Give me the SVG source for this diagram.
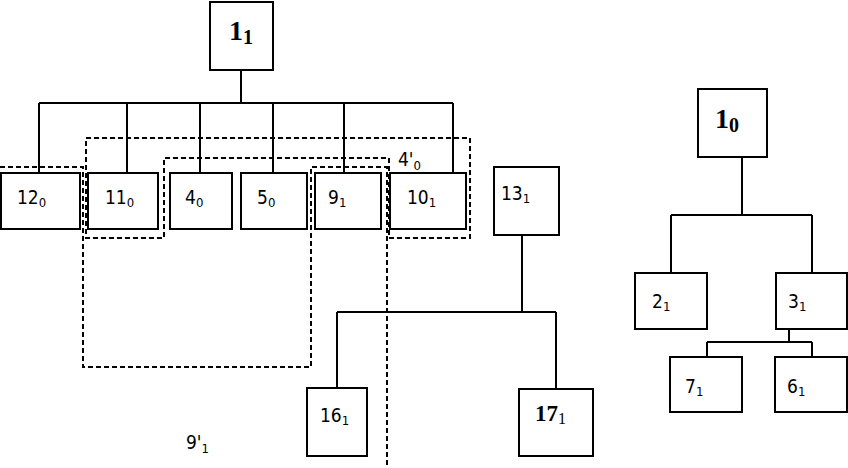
<svg xmlns="http://www.w3.org/2000/svg" width="848" height="468" viewBox="0 0 848 468">
<style>
.box{fill:#fff;stroke:#000;stroke-width:2}
.ln{fill:none;stroke:#000;stroke-width:2}
.ds{fill:none;stroke:#000;stroke-width:2;stroke-dasharray:5 3}
.t{font-family:"DejaVu Sans Condensed","DejaVu Sans",Verdana,sans-serif;font-stretch:condensed;font-size:19px;fill:#000}
.s{font-size:13px}
.b{font-family:"Liberation Serif","Times New Roman",serif;font-weight:bold;font-size:28px;fill:#000}
.bs{font-size:20px}
</style>
<rect width="848" height="468" fill="#fff"/>
<g id="connectors">
<path class="ln" d="M241,70 V103 M39,103 H453 M39,103 V173 M127,103 V173 M200,103 V173 M273,103 V173 M344,103 V173 M453,103 V173"/>
<path class="ln" d="M522,235 V312 M337,312 H556 M337,312 V388 M556,312 V389"/>
<path class="ln" d="M742,157 V215 M671,215 H812 M671,215 V273 M812,215 V273"/>
<path class="ln" d="M789,329 V342 M707,342 H812 M707,342 V357 M812,342 V357"/>
</g>
<g id="groups">
<path class="ds" d="M0,167 H83 V367 H311 V167 H387 V468"/>
<path class="ds" d="M86,138 H470 V238 H389 V158 H164 V238 H86 Z"/>
<text class="t" x="398" y="166">4'<tspan class="s" dy="4">0</tspan></text>
<text class="t" x="186" y="449">9'<tspan class="s" dy="4">1</tspan></text>
</g>
<g id="n1_1"><rect class="box" x="210" y="2" width="63" height="68"/><text class="b" x="229" y="40">1<tspan class="bs" dy="4">1</tspan></text></g>
<g id="n12_0"><rect class="box" x="1" y="173" width="79" height="56"/><text class="t" x="17" y="204">12<tspan class="s" dy="3">0</tspan></text></g>
<g id="n11_0"><rect class="box" x="88" y="173" width="70" height="56"/><text class="t" x="105" y="204">11<tspan class="s" dy="3">0</tspan></text></g>
<g id="n4_0"><rect class="box" x="170" y="173" width="62" height="56"/><text class="t" x="185" y="204">4<tspan class="s" dy="3">0</tspan></text></g>
<g id="n5_0"><rect class="box" x="241" y="173" width="66" height="56"/><text class="t" x="257" y="204">5<tspan class="s" dy="3">0</tspan></text></g>
<g id="n9_1"><rect class="box" x="315" y="173" width="66" height="56"/><text class="t" x="328" y="204">9<tspan class="s" dy="3">1</tspan></text></g>
<g id="n10_1"><rect class="box" x="390" y="173" width="76" height="56"/><text class="t" x="407" y="204">10<tspan class="s" dy="3">1</tspan></text></g>
<g id="n13_1"><rect class="box" x="494" y="167" width="65" height="68"/><text class="t" x="501" y="200">13<tspan class="s" dy="3">1</tspan></text></g>
<g id="n16_1"><rect class="box" x="307" y="388" width="60" height="68"/><text class="t" x="320" y="422">16<tspan class="s" dy="3">1</tspan></text></g>
<g id="n17_1"><rect class="box" x="519" y="389" width="74" height="67"/><text x="535" y="421" style="font-family:'Liberation Serif','Times New Roman',serif;font-weight:bold;font-size:23px">17<tspan style="font-weight:normal;font-size:16px" dy="3">1</tspan></text></g>
<g id="n1_0"><rect class="box" x="698" y="89" width="69" height="68"/><text class="b" x="715" y="128">1<tspan class="bs" dy="4">0</tspan></text></g>
<g id="n2_1"><rect class="box" x="635" y="273" width="72" height="56"/><text class="t" x="652" y="308">2<tspan class="s" dy="3">1</tspan></text></g>
<g id="n3_1"><rect class="box" x="776" y="273" width="71" height="56"/><text class="t" x="788" y="308">3<tspan class="s" dy="3">1</tspan></text></g>
<g id="n7_1"><rect class="box" x="670" y="357" width="72" height="55"/><text class="t" x="685" y="393">7<tspan class="s" dy="3">1</tspan></text></g>
<g id="n6_1"><rect class="box" x="775" y="357" width="72" height="55"/><text class="t" x="787" y="393">6<tspan class="s" dy="3">1</tspan></text></g>
</svg>
